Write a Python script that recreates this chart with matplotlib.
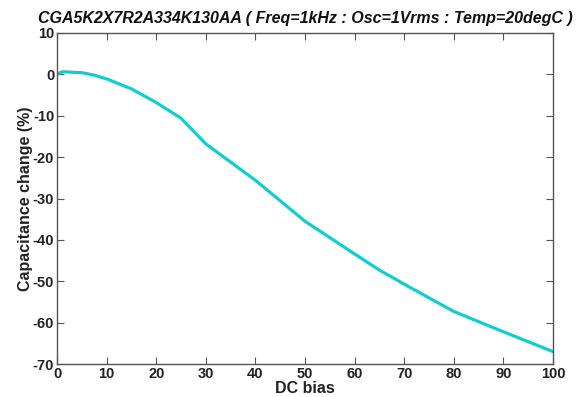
import matplotlib
matplotlib.use("Agg")
import matplotlib.pyplot as plt

# DC bias (V) and capacitance change (%)
dc_bias = [0, 1, 2, 3, 5, 7.5, 10, 15, 20, 25, 30, 40, 50, 60, 65, 70, 80, 90, 100]
cap_change = [0, 0.6, 0.6, 0.5, 0.4, -0.2, -1.1, -3.5, -6.8, -10.6, -16.8, -25.6,
              -35.5, -43.4, -47.3, -50.7, -57.3, -62.2, -67.0]

x_ticks = list(range(0, 101, 10))
y_ticks = list(range(-70, 11, 10))
title = "CGA5K2X7R2A334K130AA ( Freq=1kHz : Osc=1Vrms : Temp=20degC )"

plt.rcParams["font.family"] = ["Liberation Sans", "DejaVu Sans"]
plt.rcParams["axes.unicode_minus"] = False

fig = plt.figure(figsize=(5.77, 3.97), dpi=100)
ax = fig.add_axes([0.0988, 0.083, 0.8596, 0.834])

ax.plot(dc_bias, cap_change, color="#14CCCC", linewidth=2.3, solid_joinstyle="round")

ax.set_xlim(0, 100)
ax.set_ylim(-70, 10)
ax.set_xticks(x_ticks)
ax.set_yticks(y_ticks)

frame = "#555555"
for s in ax.spines.values():
    s.set_color(frame)
    s.set_linewidth(1.0)
ax.tick_params(direction="in", top=True, right=True, length=5, width=0.8, color=frame,
               labelsize=10.5, pad=2)
for lab in ax.get_xticklabels() + ax.get_yticklabels():
    lab.set_fontweight("bold")
    lab.set_color("#222222")

ax.set_xlabel("DC bias", fontsize=11.5, fontweight="bold", labelpad=0, color="#222222")
ax.set_ylabel("Capacitance change (%)", fontsize=11.5, fontweight="bold", labelpad=0, color="#222222")
ax.set_title(title, fontsize=11.5, fontweight="bold", style="italic", pad=7, color="#111111")

fig.savefig("out.png", dpi=100)
